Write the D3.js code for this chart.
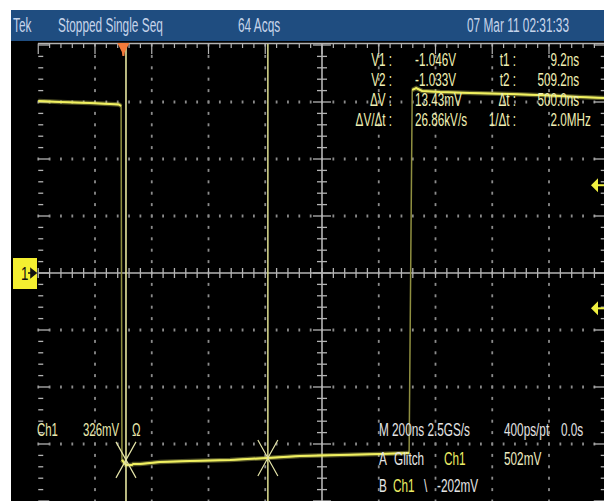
<!DOCTYPE html>
<html><head><meta charset="utf-8">
<script src="https://cdn.jsdelivr.net/npm/d3@7"></script>
<style>html,body{margin:0;padding:0;background:#fff;overflow:hidden}svg{display:block}</style>
</head><body>
<script>
// ---------------- data ----------------
const timeDomain = [-300, 1700];          // ns, 200 ns/div, 10 div
const voltDomain = [-1.304, 1.304];       // V, 326 mV/div, 8 div
const timeMajor = [-300,-100,100,300,500,700,900,1100,1300,1500,1700];
const voltMajor = [-1.304,-0.978,-0.652,-0.326,0,0.326,0.652,0.978,1.304];
const minorPerDiv = 5;

const traceBefore = [[-300,0.984],[-223,0.978],[-171,0.975],[-118,0.972],[-47,0.967],[-16,0.964],[-8,0.955]];
const traceLow = [[-5,-1.069],[9,-1.098],[30,-1.098],[35,-1.092],[59,-1.092],[129,-1.081],[235,-1.075],[376,-1.069],[506,-1.058],[622,-1.047],[763,-1.041],[904,-1.035],[1007,-1.029]];
const traceAfter = [[1018,1.047],[1032,1.058],[1053,1.041],[1116,1.035],[1222,1.029],[1363,1.024],[1504,1.015],[1609,1.007],[1700,1.001]];

const cursorTimes = [9.2, 509.2];
const cursorVolts = [-1.069, -1.058];
const triggerTime = 0;
const triggerLevels = [0.502, -0.202];
const groundLevel = 0;

const headerTexts = ["Tek", "Stopped Single Seq", "64 Acqs", "07 Mar 11 02:31:33"];
const readLabelsV = ["V1 :", "V2 :", "ΔV :", "ΔV/Δt :"];
const readValuesV = ["-1.046V", "-1.033V", "13.43mV", "26.86kV/s"];
const readLabelsT = ["t1 :", "t2 :", "Δt :", "1/Δt :"];
const readValuesT = ["9.2ns", "509.2ns", "500.0ns", "2.0MHz"];
const chInfo = ["Ch1", "326mV", "Ω"];
const horizInfo = ["M 200ns 2.5GS/s", "400ps/pt", "0.0s"];
const trigA = ["A", "Glitch", "Ch1", "502mV"];
const trigB = ["B", "Ch1", "\\", "-202mV"];

// ---------------- drawing ----------------
const W = 604, H = 501;
const svg = d3.select("body").append("svg").attr("width", W).attr("height", H);
svg.append("rect").attr("width", W).attr("height", H).attr("fill", "#fff");
svg.append("rect").attr("x", 11).attr("y", 10).attr("width", W - 11).attr("height", H - 10).attr("fill", "#000");
svg.append("rect").attr("x", 11).attr("y", 10).attr("width", W - 11).attr("height", 31).attr("fill", "#1f4d80");

const x = d3.scaleLinear().domain(timeDomain).range([38.25, 605.75]);
const y = d3.scaleLinear().domain(voltDomain).range([501, 45]);

const g = svg.append("g");
const GRID = "#8c8c8c", AXIS = "#b4b4b4";
const tStep = 200 / minorPerDiv, vStep = 0.326 / minorPerDiv;
const minorT = d3.range(0, 10 * minorPerDiv + 1).map(i => timeDomain[0] + i * tStep);
const minorV = d3.range(0, 8 * minorPerDiv + 1).map(i => voltDomain[0] + i * vStep);
const isMajorT = t => timeMajor.some(m => Math.abs(m - t) < 1e-6);
const isMajorV = v => voltMajor.some(m => Math.abs(m - v) < 1e-6);

// dotted inner grid
const innerT = timeMajor.filter(t => t !== timeDomain[0] && t !== timeDomain[1] && t !== 700);
const innerV = voltMajor.filter(v => Math.abs(v) > 1e-6 && Math.abs(Math.abs(v) - 1.304) > 1e-6);
innerT.forEach(t => {
  g.selectAll(null).data(minorV).enter().append("rect")
    .attr("x", x(t) - 0.9).attr("y", v => y(v) - 1.5).attr("width", 1.8).attr("height", 3).attr("fill", GRID);
});
innerV.forEach(v => {
  g.selectAll(null).data(minorT).enter().append("rect")
    .attr("x", t => x(t) - 0.9).attr("y", y(v) - 1.5).attr("width", 1.8).attr("height", 3).attr("fill", GRID);
});
// center lines
g.append("line").attr("x1", x(timeDomain[0])).attr("x2", x(timeDomain[1])).attr("y1", y(0)).attr("y2", y(0)).attr("stroke", AXIS).attr("stroke-width", 1.6);
g.selectAll(null).data(minorT).enter().append("line")
  .attr("x1", t => x(t)).attr("x2", t => x(t)).attr("y1", y(0) - 5).attr("y2", y(0) + 5).attr("stroke", AXIS).attr("stroke-width", 1.3);
g.append("line").attr("x1", x(700)).attr("x2", x(700)).attr("y1", 44).attr("y2", 501).attr("stroke", AXIS).attr("stroke-width", 1.6);
g.selectAll(null).data(minorV).enter().append("line")
  .attr("x1", v => x(700) - (isMajorV(v) ? 9 : 5)).attr("x2", v => x(700) + (isMajorV(v) ? 9 : 5))
  .attr("y1", v => y(v)).attr("y2", v => y(v)).attr("stroke", AXIS).attr("stroke-width", 1.3);
// top edge
g.append("line").attr("x1", 38).attr("x2", W).attr("y1", 43.5).attr("y2", 43.5).attr("stroke", AXIS).attr("stroke-width", 1.3);
g.selectAll(null).data(minorT).enter().append("line")
  .attr("x1", t => x(t)).attr("x2", t => x(t)).attr("y1", 43.5).attr("y2", t => isMajorT(t) ? 54 : 48)
  .attr("stroke", AXIS).attr("stroke-width", 1.2);
// left / right edges (ticks only)
g.selectAll(null).data(minorV).enter().append("line")
  .attr("x1", x(timeDomain[0])).attr("x2", v => x(timeDomain[0]) + (isMajorV(v) ? 11 : 5))
  .attr("y1", v => y(v)).attr("y2", v => y(v)).attr("stroke", AXIS).attr("stroke-width", 1.3);
g.selectAll(null).data(minorV).enter().append("line")
  .attr("x1", x(timeDomain[1])).attr("x2", v => x(timeDomain[1]) - (isMajorV(v) ? 12 : 5))
  .attr("y1", v => y(v)).attr("y2", v => y(v)).attr("stroke", AXIS).attr("stroke-width", 1.3);

// ---------------- trace ----------------
const line = d3.line().x(d => x(d[0])).y(d => y(d[1]));
const all = traceBefore.concat(traceLow, traceAfter);
svg.append("path").attr("d", line(all)).attr("fill", "none").attr("stroke", "#8f8f40").attr("stroke-width", 1.5);
[traceBefore, traceLow, traceAfter].forEach(seg => {
  svg.append("path").attr("d", line(seg)).attr("fill", "none").attr("stroke", "#f2f26a").attr("stroke-opacity", 0.35).attr("stroke-width", 4.5);
  svg.append("path").attr("d", line(seg)).attr("fill", "none").attr("stroke", "#f0f060").attr("stroke-width", 2);
});

// ---------------- cursors ----------------
cursorTimes.forEach((t, i) => {
  svg.append("line").attr("x1", x(t)).attr("x2", x(t)).attr("y1", 44).attr("y2", 501)
    .attr("stroke", i === 0 ? "#e6e6a0" : "#d2d288").attr("stroke-width", 1.6);
  const cx = x(t), cy = y(cursorVolts[i]);
  svg.append("path").attr("d", `M${cx-10},${cy-18}L${cx+10},${cy+18}M${cx-10},${cy+18}L${cx+10},${cy-18}`)
    .attr("stroke", "#e4e4a8").attr("stroke-width", 1.2).attr("fill", "none");
});

// trigger position marker (orange)
const tx = x(triggerTime);
svg.append("path").attr("d", `M${tx-6},43 L${tx+6},43 L${tx+1.5},52 L${tx+1},56 L${tx-1},56 L${tx-1.5},52 Z`).attr("fill", "#f27a3a");

// trigger level arrows (right)
triggerLevels.forEach(v => {
  const yy = y(v);
  svg.append("line").attr("x1", 594).attr("x2", 604).attr("y1", yy).attr("y2", yy).attr("stroke", "#f0f040").attr("stroke-width", 2);
  svg.append("path").attr("d", `M591,${yy} L598,${yy-7} L598,${yy+7} Z`).attr("fill", "#f0f040");
});

// ground marker box
const gy = y(groundLevel);
svg.append("rect").attr("x", 13).attr("y", gy - 15).attr("width", 24).attr("height", 31).attr("fill", "#f4ef30");
svg.append("path").attr("d", `M28,${gy}L33,${gy}M31,${gy-4}L36,${gy}L31,${gy+4}Z`).attr("stroke", "#111").attr("stroke-width", 1.6).attr("fill", "#111");

// ---------------- text ----------------
const FONT = "'Liberation Sans', Arial, sans-serif";
function txt(px, py, s, o = {}) {
  const size = o.size || 18, sx = o.sx || 0.65;
  return svg.append("text").attr("transform", `translate(${px},${py}) scale(${sx},1)`)
    .attr("font-family", FONT).attr("font-size", size)
    .attr("text-anchor", o.anchor || "start").attr("fill", o.fill || "#f0f0b0").text(s);
}
function measure(s, size) {
  const t = svg.append("text").attr("font-family", FONT).attr("font-size", size).text(s);
  const w = t.node().getComputedTextLength();
  t.remove();
  return w;
}
txt(21, gy + 7, "1", { size: 19, fill: "#111", sx: 0.7 });

const HC = "#c6d4ea";
[13, 58, 238, 467].forEach((px, i) => txt(px, 32, headerTexts[i], { size: 21, sx: 0.565, fill: HC }));

const RC = "#f0f0b4", RS = 18, RX = 0.65;
readLabelsV.forEach((s, i) => txt(392, 66 + 20 * i, s, { anchor: "end", fill: RC, size: RS, sx: RX }));
readValuesV.forEach((s, i) => txt(415, 66 + 20 * i, s, { fill: RC, size: RS, sx: RX }));
readLabelsT.forEach((s, i) => txt(516, 66 + 20 * i, s, { anchor: "end", fill: RC, size: RS, sx: RX }));
readValuesT.forEach((s, i) => {
  const k = s.indexOf(".");
  const w = measure(s.slice(0, k), RS) * RX;
  txt(557 - w, 66 + 20 * i, s, { fill: RC, size: RS, sx: RX });
});

const BC = "#e8e8ae", WC = "#e4e4e4", YC = "#ecec64";
[37, 83, 132].forEach((px, i) => txt(px, 436, chInfo[i], { size: 19, sx: 0.6, fill: BC }));
[379, 504, 561].forEach((px, i) => txt(px, 436, horizInfo[i], { size: 19, sx: 0.62, fill: WC }));
[379, 394, 444, 504].forEach((px, i) => txt(px, 465, trigA[i], { size: 19, sx: 0.62, fill: i === 2 ? YC : (i === 3 ? "#ececc0" : WC) }));
[379, 393, 424, 437].forEach((px, i) => txt(px, 492, trigB[i], { size: 19, sx: 0.62, fill: i === 1 ? YC : WC }));
</script>
</body></html>
